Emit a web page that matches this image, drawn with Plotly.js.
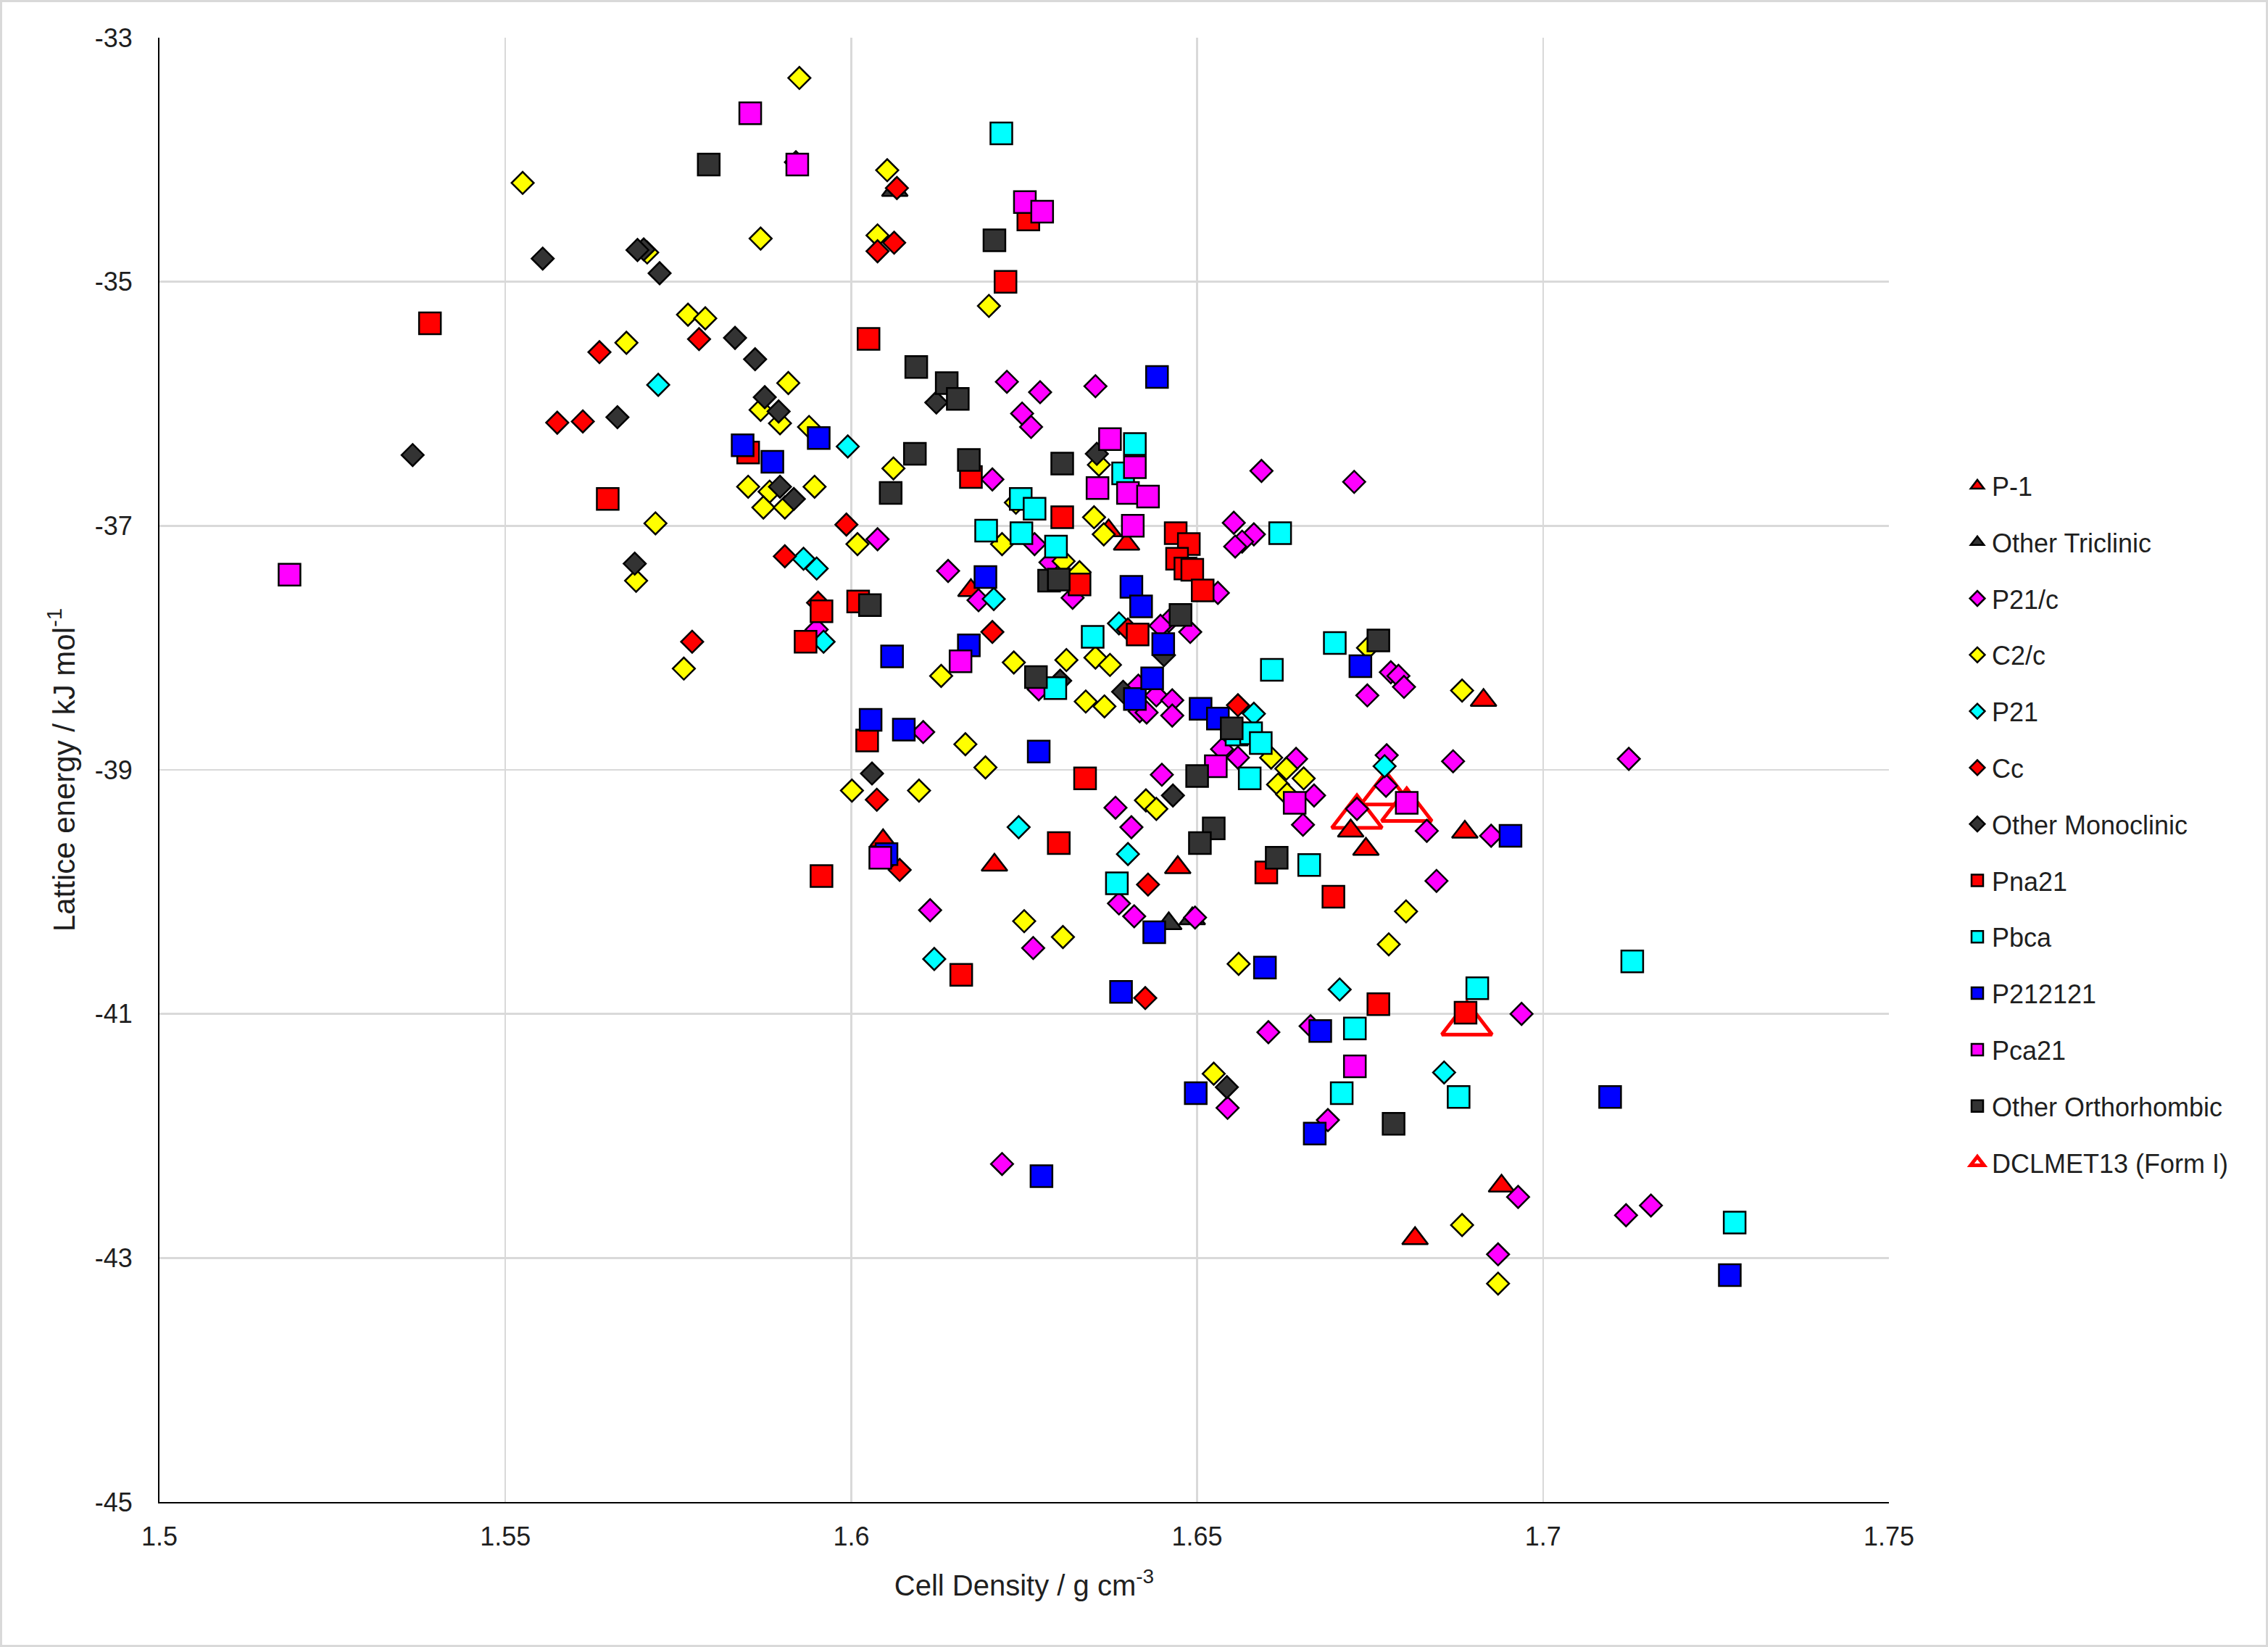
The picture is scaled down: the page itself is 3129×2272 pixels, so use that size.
<!DOCTYPE html>
<html><head><meta charset="utf-8">
<script src="https://cdn.plot.ly/plotly-3.0.1.min.js"></script>
<style>
html,body{margin:0;padding:0;background:#fff}
#wrap{position:relative;width:3129px;height:2272px}
#chart{width:3129px;height:2272px}
#frame{position:absolute;left:0;top:0;width:3129px;height:2272px;box-sizing:border-box;border:3px solid #d9d9d9;pointer-events:none}
</style>
</head><body><div id="wrap"><div id="chart"></div><div id="frame"></div></div>
<script>
// ---- Data (cell density g cm-3, lattice energy kJ mol-1) ----
const p1X = [1.6398,1.6372,1.6173,1.6046,1.6207,1.6472,1.6722,1.6744,1.6887,1.6914,1.6815,1.6940];
const p1Y = [-37.15,-37.04,-37.53,-39.58,-39.78,-39.80,-39.50,-39.65,-39.51,-38.43,-42.84,-42.41];

const otX = [1.6063,1.6459,1.6493];
const otY = [-34.25,-40.26,-40.22];

const p21cX = [1.6225,1.6273,1.6353,1.6247,1.6260,1.6204,1.6593,1.6727,1.6038,1.6140,1.6265,1.6288,1.6320,1.6184,1.5950,1.6553,1.6582,1.6565,1.6555,1.6530,1.6490,1.6459,1.6447,1.6271,1.6417,1.6415,1.6441,1.6464,1.6427,1.6464,1.6104,1.6382,1.6405,1.6536,1.6559,1.6643,1.6669,1.6653,1.6449,1.6780,1.6791,1.6799,1.6746,1.6774,1.6773,1.6870,1.6731,1.6832,1.6846,1.7124,1.6925,1.6114,1.6263,1.6387,1.6409,1.6218,1.6497,1.6603,1.6664,1.6544,1.6689,1.6969,1.6964,1.6935,1.7120,1.7156];
const p21cY = [-35.82,-35.905,-35.856,-36.08,-36.19,-36.62,-36.55,-36.64,-37.11,-37.37,-37.15,-37.30,-37.59,-37.61,-37.85,-36.975,-37.07,-37.13,-37.17,-37.55,-37.87,-37.78,-37.82,-38.34,-38.52,-38.31,-38.39,-38.43,-38.53,-38.555,-38.69,-39.31,-39.47,-38.83,-38.90,-38.91,-39.21,-39.45,-39.04,-38.20,-38.23,-38.32,-38.39,-38.88,-39.13,-38.93,-39.32,-39.50,-39.91,-38.91,-39.54,-40.15,-40.46,-40.095,-40.20,-42.23,-40.21,-41.15,-41.10,-41.77,-41.87,-41.00,-42.50,-42.97,-42.65,-42.57];

const c2cX = [1.5925,1.5525,1.5869,1.5705,1.5764,1.5789,1.5675,1.5909,1.5869,1.5897,1.5939,1.6052,1.6038,1.6199,1.6358,1.6061,1.5851,1.5882,1.5873,1.5904,1.5947,1.5717,1.5689,1.5758,1.6009,1.6238,1.6218,1.6307,1.6330,1.6351,1.6365,1.6130,1.6235,1.6311,1.6353,1.6374,1.6339,1.6366,1.6165,1.6194,1.6001,1.6098,1.6426,1.6441,1.6607,1.6629,1.6654,1.6617,1.6630,1.6747,1.6883,1.6250,1.6306,1.6802,1.6777,1.6560,1.6524,1.6883,1.6935];
const c2cY = [-33.33,-34.19,-34.646,-34.76,-35.27,-35.30,-35.50,-35.83,-36.05,-36.16,-36.19,-34.086,-34.62,-35.198,-36.50,-36.53,-36.68,-36.72,-36.85,-36.85,-36.68,-36.98,-37.45,-38.17,-37.15,-36.81,-37.15,-37.29,-37.38,-36.93,-37.07,-38.23,-38.12,-38.10,-38.08,-38.14,-38.44,-38.48,-38.79,-38.98,-39.17,-39.17,-39.25,-39.32,-38.90,-38.99,-39.07,-39.12,-39.20,-38.00,-38.35,-40.24,-40.37,-40.16,-40.43,-40.59,-41.49,-42.73,-43.21];

const p21X = [1.5721,1.5995,1.5931,1.5950,1.5960,1.6206,1.6387,1.6582,1.6771,1.6242,1.6400,1.6120,1.6706,1.6857];
const p21Y = [-35.845,-36.35,-37.27,-37.35,-37.95,-37.60,-37.80,-38.54,-38.97,-39.47,-39.69,-40.55,-40.80,-41.48];

const ccX = [1.5780,1.5636,1.5575,1.5612,1.6066,1.6038,1.6062,1.5904,1.5952,1.5770,1.5993,1.6400,1.6204,1.6037,1.6070,1.6559,1.6429,1.6425];
const ccY = [-35.47,-35.577,-36.155,-36.145,-34.232,-34.75,-34.68,-37.25,-37.63,-37.95,-36.99,-37.85,-37.87,-39.245,-39.82,-38.47,-39.94,-40.87];

const omX = [1.5920,1.5554,1.5700,1.5691,1.5723,1.5832,1.5861,1.5662,1.5875,1.5895,1.5366,1.6123,1.6355,1.5897,1.5917,1.5687,1.6302,1.6393,1.6030,1.6452,1.6465,1.6543];
const omY = [-34.02,-34.81,-34.735,-34.74,-34.93,-35.46,-35.635,-36.11,-35.946,-36.063,-36.42,-35.99,-36.41,-36.68,-36.78,-37.31,-38.27,-38.36,-39.03,-38.06,-39.21,-41.60];

const pna21X = [1.5391,1.5648,1.5851,1.6256,1.6223,1.6025,1.6173,1.6305,1.6330,1.6010,1.5957,1.5934,1.6414,1.6023,1.6338,1.6300,1.5957,1.6469,1.6488,1.6471,1.6483,1.6493,1.6508,1.6600,1.6159,1.6697,1.6762,1.6888];
const pna21Y = [-35.34,-36.78,-36.40,-34.49,-35.00,-35.468,-36.60,-36.93,-37.48,-37.62,-37.70,-37.95,-37.89,-38.76,-39.07,-39.60,-39.87,-37.06,-37.15,-37.27,-37.35,-37.36,-37.53,-39.84,-40.68,-40.04,-40.92,-40.99];

const pbcaX = [1.6217,1.6410,1.6393,1.6245,1.6265,1.6195,1.6246,1.6296,1.6349,1.6295,1.6384,1.6620,1.6557,1.6578,1.6592,1.6576,1.6662,1.6699,1.6608,1.6728,1.6878,1.6709,1.6905,1.7129,1.7277];
const pbcaY = [-33.784,-36.33,-36.57,-36.78,-36.86,-37.04,-37.06,-37.17,-37.91,-38.33,-39.93,-37.06,-38.71,-38.70,-38.78,-39.07,-39.78,-37.96,-38.18,-41.12,-41.68,-41.65,-40.79,-40.57,-42.71];

const p212121X = [1.5843,1.5886,1.5953,1.6442,1.6194,1.6405,1.6419,1.6170,1.6059,1.6410,1.6028,1.6076,1.6271,1.6051,1.6451,1.6435,1.6505,1.6530,1.6736,1.6953,1.6390,1.6275,1.6438,1.6598,1.6678,1.6498,1.6670,1.7097,1.7270];
const p212121Y = [-36.34,-36.475,-36.28,-35.78,-37.42,-37.50,-37.66,-37.98,-38.07,-38.42,-38.59,-38.67,-38.85,-39.69,-37.97,-38.25,-38.50,-38.58,-38.15,-39.54,-40.82,-42.33,-40.33,-40.62,-41.14,-41.65,-41.98,-41.68,-43.14];

const pca21X = [1.5188,1.5854,1.5922,1.6251,1.6276,1.6374,1.6410,1.6356,1.6400,1.6429,1.6407,1.6158,1.6042,1.6527,1.6641,1.6803,1.6728];
const pca21Y = [-37.40,-33.62,-34.04,-34.347,-34.426,-36.29,-36.52,-36.69,-36.73,-36.76,-37.00,-38.11,-39.72,-38.97,-39.27,-39.27,-41.43];

const ooX = [1.5794,1.6207,1.6094,1.6138,1.6154,1.6092,1.6170,1.6305,1.6057,1.6286,1.6300,1.6027,1.6267,1.6476,1.6550,1.6500,1.6524,1.6504,1.6615,1.6762,1.6784];
const ooY = [-34.04,-34.66,-35.698,-35.83,-35.96,-36.41,-36.46,-36.49,-36.73,-37.45,-37.44,-37.65,-38.24,-37.73,-38.66,-39.05,-39.48,-39.60,-39.72,-37.94,-41.90];

const dclX = [1.6731,1.6773,1.6803,1.6890];
const dclY = [-39.386,-39.195,-39.33,-41.08];

const xTickVals = [1.5,1.55,1.6,1.65,1.7,1.75];
const xTickText = ['1.5','1.55','1.6','1.65','1.7','1.75'];
const yTickVals = [-45,-43,-41,-39,-37,-35,-33];
const yTickText = ['-45','-43','-41','-39','-37','-35','-33'];

// ---- Styling ----
const FONT = 'Liberation Sans, Arial, sans-serif';
const TXT = '#1f1f1f';
function mk(name, xs, ys, symbol, color, size, rank) {
  return {type:'scatter', mode:'markers', name:name, x:xs, y:ys,
    legendgroup:name, legendrank:rank,
    marker:{symbol:symbol, color:color, size:size, line:{color:'#000000', width:2.5}},
    hoverinfo:'x+y'};
}
const TRI=31, DIA=23.5, SQ=30;
const traces = [
  {type:'scatter', mode:'markers', name:'DCLMET13 (Form I)', x:dclX, y:dclY,
   legendgroup:'dcl', legendrank:13,
   marker:{symbol:'triangle-up-open', color:'#FF0000', size:60, line:{color:'#FF0000', width:5}}},
  mk('P-1', p1X, p1Y, 'triangle-up', '#FF0000', TRI, 1),
  mk('Other Triclinic', otX, otY, 'triangle-up', '#333333', TRI, 2),
  mk('P21/c', p21cX, p21cY, 'diamond', '#FF00FF', DIA, 3),
  mk('C2/c', c2cX, c2cY, 'diamond', '#FFFF00', DIA, 4),
  mk('P21', p21X, p21Y, 'diamond', '#00FFFF', DIA, 5),
  mk('Cc', ccX, ccY, 'diamond', '#FF0000', DIA, 6),
  mk('Other Monoclinic', omX, omY, 'diamond', '#333333', DIA, 7),
  mk('Pna21', pna21X, pna21Y, 'square', '#FF0000', SQ, 8),
  mk('Pbca', pbcaX, pbcaY, 'square', '#00FFFF', SQ, 9),
  mk('P212121', p212121X, p212121Y, 'square', '#0000FF', SQ, 10),
  mk('Pca21', pca21X, pca21Y, 'square', '#FF00FF', SQ, 11),
  mk('Other Orthorhombic', ooX, ooY, 'square', '#333333', SQ, 12)
];

const L=220, R=2606, T=52, B=2072, W=3129, H=2272;
const layout = {
  width:W, height:H,
  margin:{l:L, r:W-R, t:T, b:H-B, pad:0},
  paper_bgcolor:'#ffffff', plot_bgcolor:'#ffffff',
  font:{family:FONT, size:36, color:TXT},
  showlegend:true,
  legend:{x:(2708-L)/(R-L), y:1-(640-T)/(B-T), xanchor:'left', yanchor:'top',
    font:{family:FONT, size:36, color:TXT}, tracegroupgap:28, traceorder:'grouped',
    bgcolor:'rgba(0,0,0,0)', borderwidth:0},
  xaxis:{range:[1.5,1.75], tickmode:'array', tickvals:xTickVals, ticktext:xTickText,
    showgrid:true, gridcolor:'#d9d9d9', gridwidth:2.5, zeroline:false,
    showline:true, linecolor:'#000000', linewidth:2, ticks:'', ticklabelstandoff:15,
    tickfont:{family:FONT, size:36, color:TXT},
    title:{text:'Cell Density / g cm<sup>-3</sup>', font:{family:FONT, size:40, color:TXT}, standoff:34},
    automargin:false, fixedrange:true},
  yaxis:{range:[-45,-33], tickmode:'array', tickvals:yTickVals, ticktext:yTickText,
    showgrid:true, gridcolor:'#d9d9d9', gridwidth:2.5, zeroline:false,
    showline:true, linecolor:'#000000', linewidth:2, ticks:'', ticklabelstandoff:28,
    tickfont:{family:FONT, size:36, color:TXT},
    title:{text:'Lattice energy / kJ mol<sup>-1</sup>', font:{family:FONT, size:42, color:TXT}, standoff:14},
    automargin:false, fixedrange:true}
};
Plotly.newPlot('chart', traces, layout, {displayModeBar:false, staticPlot:true});
</script></body></html>
